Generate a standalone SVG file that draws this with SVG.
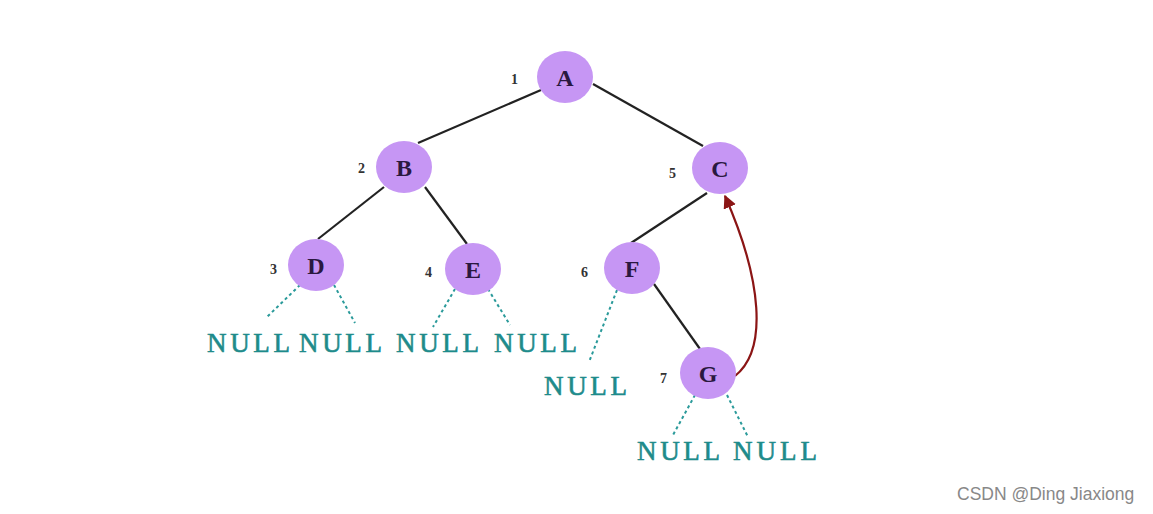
<svg xmlns="http://www.w3.org/2000/svg" width="1153" height="514" viewBox="0 0 1153 514">
<style>
.node ellipse{fill:#c696f4}
.node text{font-family:"Liberation Serif",serif;font-size:24px;font-weight:bold;fill:#2a1840;text-anchor:middle}
.num{font-family:"Liberation Serif",serif;font-size:14px;font-weight:bold;fill:#333}
.null{font-family:"Liberation Serif",serif;font-size:27px;fill:#1e8b8b;stroke:#1e8b8b;stroke-width:0.6}
.edge{stroke:#222;stroke-width:2.2;fill:none}
.dash{stroke:#2a9a9a;stroke-width:2;stroke-dasharray:3 3;fill:none}
.wm{font-family:"Liberation Sans",sans-serif;font-size:17.5px;fill:#888}
</style>
<defs>
<marker id="ah" viewBox="0 0 10 10" refX="9" refY="5" markerWidth="6" markerHeight="6" orient="auto" markerUnits="strokeWidth">
<path d="M0,0 L10,5 L0,10 z" fill="#8b1515"/>
</marker>
</defs>
<rect width="1153" height="514" fill="#fff"/>
<g id="connectors">
<line class="edge" x1="541" y1="90" x2="418" y2="143"/>
<line class="edge" x1="593" y1="84" x2="703" y2="146"/>
<line class="edge" x1="384" y1="187" x2="318" y2="239"/>
<line class="edge" x1="425" y1="187" x2="467" y2="244"/>
<line class="edge" x1="707" y1="193" x2="631" y2="243"/>
<line class="edge" x1="654" y1="284" x2="700" y2="349"/>
<line class="dash" x1="300" y1="285" x2="267" y2="317"/>
<line class="dash" x1="334" y1="285" x2="355" y2="323"/>
<line class="dash" x1="455" y1="289" x2="433" y2="327"/>
<line class="dash" x1="488" y1="289" x2="510" y2="325"/>
<line class="dash" x1="617" y1="290" x2="589" y2="362"/>
<line class="dash" x1="695" y1="395" x2="673" y2="435"/>
<line class="dash" x1="727" y1="395" x2="748" y2="437"/>
<path d="M735,376 C768,350 762,280 725,196" fill="none" stroke="#8b1515" stroke-width="2.2" marker-end="url(#ah)"/>
</g>
<g id="node-A" class="node"><ellipse cx="565" cy="77" rx="28" ry="26"/><text x="565" y="86">A</text></g>
<g id="node-B" class="node"><ellipse cx="404" cy="167" rx="28" ry="26"/><text x="404" y="176">B</text></g>
<g id="node-C" class="node"><ellipse cx="720" cy="168" rx="28" ry="26"/><text x="720" y="177">C</text></g>
<g id="node-D" class="node"><ellipse cx="316" cy="265" rx="28" ry="26"/><text x="316" y="274">D</text></g>
<g id="node-E" class="node"><ellipse cx="473" cy="269" rx="28" ry="26"/><text x="473" y="278">E</text></g>
<g id="node-F" class="node"><ellipse cx="632" cy="268" rx="28" ry="26"/><text x="632" y="277">F</text></g>
<g id="node-G" class="node"><ellipse cx="708" cy="373" rx="28" ry="26"/><text x="708" y="382">G</text></g>
<g id="numbers">
<text class="num" x="511" y="84">1</text>
<text class="num" x="358" y="173">2</text>
<text class="num" x="270" y="274">3</text>
<text class="num" x="425" y="277">4</text>
<text class="num" x="669" y="178">5</text>
<text class="num" x="581" y="277">6</text>
<text class="num" x="660" y="383">7</text>
</g>
<g id="nulls">
<text class="null" x="207" y="352" textLength="83" lengthAdjust="spacing">NULL</text>
<text class="null" x="299" y="352" textLength="83" lengthAdjust="spacing">NULL</text>
<text class="null" x="396" y="352" textLength="83" lengthAdjust="spacing">NULL</text>
<text class="null" x="494" y="352" textLength="83" lengthAdjust="spacing">NULL</text>
<text class="null" x="544" y="395" textLength="83" lengthAdjust="spacing">NULL</text>
<text class="null" x="637" y="460" textLength="83" lengthAdjust="spacing">NULL</text>
<text class="null" x="733" y="460" textLength="84" lengthAdjust="spacing">NULL</text>
</g>
<text class="wm" x="957" y="500">CSDN @Ding Jiaxiong</text>
</svg>
